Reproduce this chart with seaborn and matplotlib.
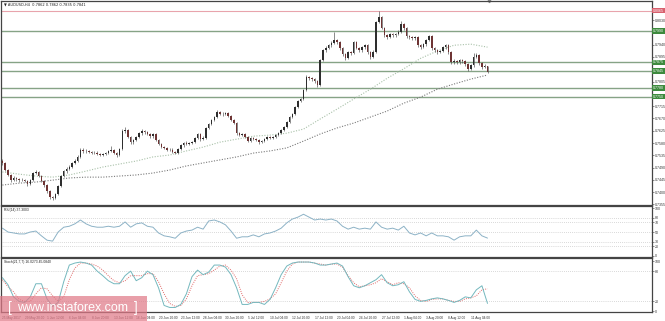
import numpy as np
import pandas as pd
import matplotlib
matplotlib.use("Agg")
import matplotlib.pyplot as plt
import matplotlib.transforms as mtransforms
from matplotlib.patches import Rectangle
import seaborn as sns

# ---------------- data (prices in pips, 1e-4) ----------------
title_text = "\u25BC AUDUSD,H4  0.7862 0.7862 0.7835 0.7841"
first_open = 7515
closes = [7507,7481,7463,7444,7452,7448,7444,7446,7441,7430,
          7444,7470,7474,7459,7441,7426,7404,7382,7379,7393,
          7422,7459,7477,7485,7492,7507,7514,7529,7554,7550,
          7551,7547,7543,7545,7540,7536,7540,7543,7551,7554,
          7543,7536,7558,7624,7627,7602,7583,7591,7602,7616,
          7624,7620,7613,7605,7613,7591,7576,7565,7562,7554,
          7556,7547,7543,7558,7572,7580,7578,7580,7583,7598,
          7613,7594,7598,7635,7649,7664,7675,7693,7688,7686,
          7690,7679,7664,7653,7616,7609,7613,7602,7587,7598,
          7595,7591,7583,7586,7594,7602,7598,7602,7609,7616,
          7627,7638,7657,7675,7686,7712,7734,7741,7774,7821,
          7818,7814,7807,7792,7884,7920,7928,7938,7946,7957,
          7949,7928,7906,7891,7913,7910,7949,7928,7920,7931,
          7938,7913,7895,7913,8023,8040,8001,7975,7968,7979,
          7975,7979,7986,8015,8001,7971,7968,7964,7968,7938,
          7931,7942,7957,7971,7928,7920,7913,7917,7931,7938,
          7913,7876,7880,7876,7884,7880,7869,7851,7865,7895,
          7902,7873,7858,7862,7841]
highs = [7522,7510,7486,7468,7458,7457,7453,7451,7450,7445,
         7448,7475,7480,7477,7462,7445,7430,7408,7387,7398,
         7426,7463,7482,7493,7498,7512,7520,7535,7560,7561,
         7557,7555,7552,7550,7549,7544,7545,7548,7556,7568,
         7558,7547,7562,7630,7640,7630,7606,7596,7607,7621,
         7630,7629,7624,7617,7618,7616,7595,7580,7570,7566,
         7561,7560,7551,7562,7577,7585,7586,7585,7589,7603,
         7618,7616,7604,7640,7654,7669,7680,7700,7698,7692,
         7695,7694,7683,7668,7656,7620,7618,7616,7606,7603,
         7602,7599,7595,7591,7599,7607,7606,7607,7614,7621,
         7632,7643,7662,7680,7691,7717,7739,7746,7779,7828,
         7826,7822,7818,7810,7889,7925,7934,7943,7952,7985,
         7962,7953,7932,7910,7918,7918,7955,7953,7932,7936,
         7944,7941,7916,7919,8028,8064,8045,8005,7980,7984,
         7983,7984,7992,8028,8019,8005,7976,7972,7973,7971,
         7943,7947,7962,7976,7974,7932,7924,7922,7936,7944,
         7941,7916,7886,7884,7889,7888,7884,7872,7870,7908,
         7910,7905,7877,7868,7862]
lows = [7500,7476,7458,7438,7440,7442,7439,7440,7436,7424,
        7427,7441,7465,7455,7436,7420,7398,7376,7372,7375,
        7390,7418,7454,7472,7480,7488,7502,7510,7525,7545,
        7544,7542,7538,7539,7535,7531,7532,7536,7539,7547,
        7538,7530,7532,7555,7618,7597,7577,7578,7587,7598,
        7611,7614,7608,7600,7600,7586,7571,7560,7557,7549,
        7550,7542,7538,7540,7554,7567,7572,7573,7575,7579,
        7594,7589,7590,7595,7630,7645,7660,7670,7682,7680,
        7681,7674,7659,7648,7610,7604,7605,7597,7582,7583,
        7590,7586,7578,7579,7582,7590,7593,7594,7598,7605,
        7612,7623,7634,7652,7671,7682,7708,7729,7737,7770,
        7812,7808,7801,7786,7788,7879,7914,7923,7932,7941,
        7943,7922,7900,7883,7887,7904,7906,7923,7914,7915,
        7926,7907,7886,7890,7909,8018,7996,7969,7962,7963,
        7969,7970,7974,7982,7995,7966,7962,7958,7959,7932,
        7925,7927,7937,7952,7922,7914,7907,7908,7912,7926,
        7907,7870,7871,7870,7871,7874,7863,7845,7846,7860,
        7890,7867,7852,7853,7835]

# moving averages sampled every 6 candles
ma_fast = [7474,7466,7459,7455,7463,7477,7492,7503,7514,7529,7536,7551,7565,7583,7594,
           7605,7609,7616,7631,7668,7704,7741,7777,7817,7852,7890,7917,7938,7942,7931]
ma_slow = [7426,7433,7437,7444,7452,7455,7455,7459,7463,7470,7481,7496,7507,7518,7529,
           7543,7551,7562,7587,7613,7635,7653,7675,7697,7726,7748,7777,7796,7814,7829]

# oscillators sampled every 2 candles
rsi = [58,50,48,46,46,50,52,42,33,31,
       50,60,62,67,75,67,62,60,60,62,
       60,62,71,60,67,69,62,60,48,42,
       40,37,48,52,54,60,56,73,75,71,
       65,52,37,40,40,44,40,46,48,52,
       58,69,77,81,87,81,75,77,75,77,
       73,62,56,60,56,58,56,71,60,56,
       58,54,62,48,44,48,42,48,42,42,
       40,33,40,42,42,54,42,37.3]
stoch_main = [67,53,29,20,18,29,55,55,25,10,
              18,59,92,96,98,96,92,80,71,61,
              55,55,71,80,61,67,80,73,47,12,
              8,8,14,35,69,82,73,78,92,92,
              88,73,47,14,14,18,18,14,24,47,
              73,90,96,98,98,98,96,92,92,94,
              96,90,69,51,47,51,57,63,73,57,
              51,53,59,39,24,20,22,25,27,25,
              22,18,22,29,27,43,51,16]
stoch_signal = [63,49,39,24,20,20,35,47,45,31,
                20,29,63,86,96,96,94,90,82,71,
                61,57,61,71,71,71,75,75,59,35,
                16,10,12,25,51,71,73,75,82,90,
                92,82,65,33,18,18,18,20,25,35,
                57,80,94,98,98,98,96,94,92,94,
                94,88,71,57,49,51,53,57,65,59,
                53,57,55,47,31,22,20,24,25,25,
                22,20,20,25,27,31,43,45]

green_levels = [7990, 7875, 7845, 7780, 7750]
red_level = 8065
price_ticks = [8030, 7940, 7895, 7805, 7715, 7670, 7625,
               7580, 7535, 7490, 7445, 7400, 7355]
date_labels = ["25 May 2017", "29 May 20:00", "1 Jun 12:00", "6 Jun 04:00", "8 Jun 20:00",
               "13 Jun 12:00", "16 Jun 04:00", "20 Jun 20:00", "23 Jun 12:00", "28 Jun 04:00",
               "30 Jun 20:00", "5 Jul 12:00", "10 Jul 04:00", "12 Jul 20:00", "17 Jul 12:00",
               "20 Jul 04:00", "24 Jul 20:00", "27 Jul 12:00", "1 Aug 04:00", "3 Aug 20:00",
               "8 Aug 12:00", "11 Aug 04:00"]
rsi_levels = [80, 70, 50, 30, 20]
rsi_ticks = [100, 80, 70, 50, 30, 20, 0]
stoch_levels = [80, 20]
stoch_ticks = [100, 80, 20, 0]
rsi_label = "RSI(14) 37.3003"
stoch_label = "Stoch(21,7,7) 16.0273 45.0840"
watermark = "www.instaforex.com"

# ---------------- build frames ----------------
n = len(closes)
idx = np.arange(n)
c = np.array(closes) / 1e4
o = np.array([first_open] + closes[:-1]) / 1e4
h = np.array(highs) / 1e4
l = np.array(lows) / 1e4
ma_x = np.arange(0, n, 6)
osc_x = np.arange(0, n, 2)
ma_df = pd.DataFrame({"x": ma_x, "fast": np.array(ma_fast) / 1e4, "slow": np.array(ma_slow) / 1e4})
osc_df = pd.DataFrame({"x": osc_x, "rsi": rsi, "main": stoch_main, "signal": stoch_signal})

sns.set_style("white")
plt.rcParams["font.family"] = ["Liberation Sans", "DejaVu Sans"]

W, H = 665, 321
fig = plt.figure(figsize=(W / 100, H / 100), dpi=100)
fig.patch.set_facecolor("white")

def rect(left, top, right, bottom):
    return [left / W, 1 - bottom / H, (right - left) / W, (bottom - top) / H]

RIGHT = 652
ax = fig.add_axes(rect(1, 1, RIGHT, 205))
ax_r = fig.add_axes(rect(1, 206, RIGHT, 257))
ax_s = fig.add_axes(rect(1, 258, RIGHT, 312))

XL = (-0.5, 233)
tick_col = "#333333"
FS = 2.6
for a in (ax, ax_r, ax_s):
    a.set_xlim(*XL)
    a.set_facecolor("white")
    for sp in a.spines.values():
        sp.set_color("#444444")
        sp.set_linewidth(0.9)
    a.yaxis.tick_right()
    a.tick_params(axis="y", labelsize=FS, length=1.2, width=0.4, pad=0.8, colors=tick_col)

# ---------------- main price panel ----------------
for lv in green_levels:
    ax.axhline(lv / 1e4, color="#86a386", lw=1.0, zorder=1)
ax.axhline(red_level / 1e4, color="#e8a4ac", lw=0.8, zorder=1)

sns.lineplot(data=ma_df, x="x", y="fast", ax=ax, color="#a9c1a9", linewidth=0.8,
             linestyle=(0, (1, 1.4)), errorbar=None, zorder=2)
sns.lineplot(data=ma_df, x="x", y="slow", ax=ax, color="#7a7a7a", linewidth=0.8,
             linestyle=(0, (1, 1.4)), errorbar=None, zorder=2)

bull = c >= o
ax.vlines(idx, l, h, color="#4a4a4a", lw=0.45, zorder=3)
body_h = np.maximum(np.abs(c - o), 0.00008)
body_b = np.minimum(o, c)
cols = np.where(bull, "#2e2e2e", "#6e3434")
ax.bar(idx, body_h, bottom=body_b, width=0.55, color=cols, linewidth=0, zorder=4)

ax.set_ylim(0.7353, 0.8100)
ax.set_yticks(np.array(price_ticks) / 1e4)
ax.set_yticklabels([f"{p / 1e4:.4f}" for p in price_ticks])
ax.set_xticks([])
ax.set_xlabel("")
ax.set_ylabel("")

blend = mtransforms.blended_transform_factory(ax.transAxes, ax.transData)
for lv in green_levels:
    ax.text(1.002, lv / 1e4, f"{lv / 1e4:.4f}", transform=blend, fontsize=FS, color="white",
            va="center", ha="left", clip_on=False, zorder=6,
            bbox=dict(boxstyle="square,pad=0.25", fc="#3e8a3e", ec="none"))
ax.text(1.002, red_level / 1e4, f"{red_level / 1e4:.4f}", transform=blend, fontsize=FS,
        color="white", va="center", ha="left", clip_on=False, zorder=6,
        bbox=dict(boxstyle="square,pad=0.25", fc="#d8606e", ec="none"))
ax.text(0.004, 0.993, title_text, transform=ax.transAxes, fontsize=2.6, va="top", ha="left",
        color="#222222", family=["DejaVu Sans"])
ax.plot([174 + 0.5], [0.8100], marker="v", ms=1.8, color="#888888", clip_on=False)

# ---------------- RSI panel ----------------
for lv in rsi_levels:
    ax_r.axhline(lv, color="#b5b5b5", lw=0.5, ls=(0, (1, 2)))
sns.lineplot(data=osc_df, x="x", y="rsi", ax=ax_r, color="#8cb2c6", linewidth=0.7, errorbar=None)
ax_r.set_ylim(-2.1, 104.2)
ax_r.set_yticks(rsi_ticks)
ax_r.set_yticklabels([str(t) for t in rsi_ticks])
ax_r.set_xticks([])
ax_r.set_xlabel("")
ax_r.set_ylabel("")
ax_r.text(0.004, 0.96, rsi_label, transform=ax_r.transAxes, fontsize=2.4, va="top", ha="left",
          color="#222222")

# ---------------- Stochastic panel ----------------
for lv in stoch_levels:
    ax_s.axhline(lv, color="#b5b5b5", lw=0.5, ls=(0, (1, 2)))
sns.lineplot(data=osc_df, x="x", y="signal", ax=ax_s, color="#e06868", linewidth=0.7,
             linestyle=(0, (1, 1.3)), errorbar=None)
sns.lineplot(data=osc_df, x="x", y="main", ax=ax_s, color="#74b8be", linewidth=0.7, errorbar=None)
ax_s.set_ylim(-1, 106)
ax_s.set_yticks(stoch_ticks)
ax_s.set_yticklabels([str(t) for t in stoch_ticks])
ax_s.set_xticks(np.arange(len(date_labels)) * 8)
ax_s.set_xticklabels(date_labels, ha="left")
ax_s.tick_params(axis="x", labelsize=2.3, length=1.8, width=0.4, pad=1.0, colors=tick_col)
ax_s.set_xlabel("")
ax_s.set_ylabel("")
ax_s.text(0.004, 0.96, stoch_label, transform=ax_s.transAxes, fontsize=2.4, va="top", ha="left",
          color="#222222")

# ---------------- watermark ----------------
fig.add_artist(Rectangle((0, 0), 147 / W, 25 / H, transform=fig.transFigure,
                         facecolor="#e07a88", alpha=0.72, edgecolor="none", zorder=10))
fig.text(10 / W, 13 / H, "[", color="white", fontsize=10, ha="center", va="center",
         family=["Liberation Sans"], zorder=11)
fig.text(136 / W, 13 / H, "]", color="white", fontsize=10, ha="center", va="center",
         family=["Liberation Sans"], zorder=11)
fig.text(73 / W, 13 / H, watermark, color="white", fontsize=9, ha="center", va="center",
         family=["Liberation Sans"], zorder=11)

fig.savefig("out.png", dpi=100, facecolor="white")
